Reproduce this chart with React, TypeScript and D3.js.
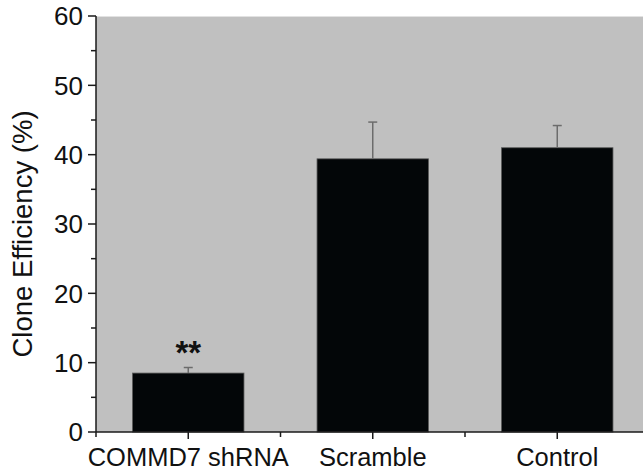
import * as d3 from 'd3';
import { useEffect, useRef } from 'react';

const categories = ['COMMD7 shRNA', 'Scramble', 'Control'];
const values = [8.5, 39.4, 41.0];
const errors = [0.8, 5.3, 3.2];
const marks = ['**', '', ''];
const majorTicks = [0, 10, 20, 30, 40, 50, 60];
const minorTicks = [5, 15, 25, 35, 45, 55];

const W = 643;
const H = 473;
const FONT = '"Liberation Sans", Arial, sans-serif';

const App = () => {
    const svgRef = useRef<SVGSVGElement>(null);

    useEffect(() => {
        const svg = d3.select(svgRef.current);
        const left = 96, top = 16, bottom = 432;
        const step = 184.5;

        const x = d3.scaleBand()
            .domain(categories)
            .range([left, left + step * categories.length])
            .paddingInner(0.396)
            .paddingOuter(0.198);
        const y = d3.scaleLinear().domain([0, 60]).range([bottom, top]);

        // plot background
        svg.append('rect')
            .attr('x', left).attr('y', top)
            .attr('width', W - left).attr('height', bottom - top)
            .attr('fill', '#c0c0c0');
        svg.append('line')
            .attr('x1', left).attr('x2', W)
            .attr('y1', top + 0.5).attr('y2', top + 0.5)
            .attr('stroke', '#e2e2e2').attr('stroke-width', 1);

        // bars
        svg.selectAll('rect.bar')
            .data(values)
            .enter()
            .append('rect')
            .attr('class', 'bar')
            .attr('x', (d, i) => x(categories[i])!)
            .attr('y', d => y(d))
            .attr('width', x.bandwidth())
            .attr('height', d => bottom - y(d))
            .attr('fill', '#030608')
            .attr('stroke', '#5a5a5a')
            .attr('stroke-width', 0.8);

        // error bars (upper only)
        const err = svg.append('g')
            .attr('stroke', '#6c6c6c')
            .attr('stroke-width', 1.5);
        values.forEach((v, i) => {
            const cx = x(categories[i])! + x.bandwidth() / 2;
            err.append('line')
                .attr('x1', cx).attr('x2', cx)
                .attr('y1', y(v)).attr('y2', y(v + errors[i]));
            err.append('line')
                .attr('x1', cx - 4.5).attr('x2', cx + 4.5)
                .attr('y1', y(v + errors[i])).attr('y2', y(v + errors[i]));
        });

        // significance marks
        svg.selectAll('text.mark')
            .data(marks)
            .enter()
            .append('text')
            .attr('class', 'mark')
            .attr('x', (d, i) => x(categories[i])! + x.bandwidth() / 2)
            .attr('y', (d, i) => y(values[i] + errors[i]) - 3.5)
            .attr('text-anchor', 'middle')
            .attr('font-family', FONT)
            .attr('font-weight', 'bold')
            .attr('font-size', 33)
            .attr('fill', '#111')
            .text(d => d);

        // y axis
        const ax = svg.append('g').attr('stroke', '#1a1a1a').attr('stroke-width', 1.5);
        ax.append('line')
            .attr('x1', left).attr('x2', left)
            .attr('y1', top).attr('y2', bottom);
        ax.selectAll('line.major')
            .data(majorTicks)
            .enter()
            .append('line')
            .attr('class', 'major')
            .attr('x1', left - 8).attr('x2', left)
            .attr('y1', d => y(d)).attr('y2', d => y(d));
        ax.selectAll('line.minor')
            .data(minorTicks)
            .enter()
            .append('line')
            .attr('class', 'minor')
            .attr('x1', left - 5).attr('x2', left)
            .attr('y1', d => y(d)).attr('y2', d => y(d));

        svg.selectAll('text.ytick')
            .data(majorTicks)
            .enter()
            .append('text')
            .attr('class', 'ytick')
            .attr('x', left - 13)
            .attr('y', d => y(d))
            .attr('dy', '0.36em')
            .attr('text-anchor', 'end')
            .attr('font-family', FONT)
            .attr('font-size', 26)
            .attr('fill', '#111')
            .text(d => d);

        // x axis
        ax.append('line')
            .attr('x1', left).attr('x2', W)
            .attr('y1', bottom).attr('y2', bottom);
        ax.selectAll('line.xmajor')
            .data(categories)
            .enter()
            .append('line')
            .attr('class', 'xmajor')
            .attr('x1', d => x(d)! + x.bandwidth() / 2)
            .attr('x2', d => x(d)! + x.bandwidth() / 2)
            .attr('y1', bottom).attr('y2', bottom + 7);
        ax.selectAll('line.xminor')
            .data(d3.range(categories.length + 1))
            .enter()
            .append('line')
            .attr('class', 'xminor')
            .attr('x1', i => left + i * step)
            .attr('x2', i => left + i * step)
            .attr('y1', bottom).attr('y2', bottom + 5);

        svg.selectAll('text.xtick')
            .data(categories)
            .enter()
            .append('text')
            .attr('class', 'xtick')
            .attr('x', d => x(d)! + x.bandwidth() / 2)
            .attr('y', 466)
            .attr('text-anchor', 'middle')
            .attr('font-family', FONT)
            .attr('font-size', 25.5)
            .attr('fill', '#111')
            .text(d => d);

        // y label
        svg.append('text')
            .attr('transform', 'translate(32,234) rotate(-90)')
            .attr('text-anchor', 'middle')
            .attr('font-family', FONT)
            .attr('font-size', 27.5)
            .attr('fill', '#111')
            .text('Clone Efficiency (%)');

        return () => {
            svg.selectAll('*').remove();
        };
    }, []);

    return (
        <svg ref={svgRef} width={W} height={H}
            style={{ position: 'absolute', left: 0, top: 0, background: '#fff' }}></svg>
    );
};

export default App;
